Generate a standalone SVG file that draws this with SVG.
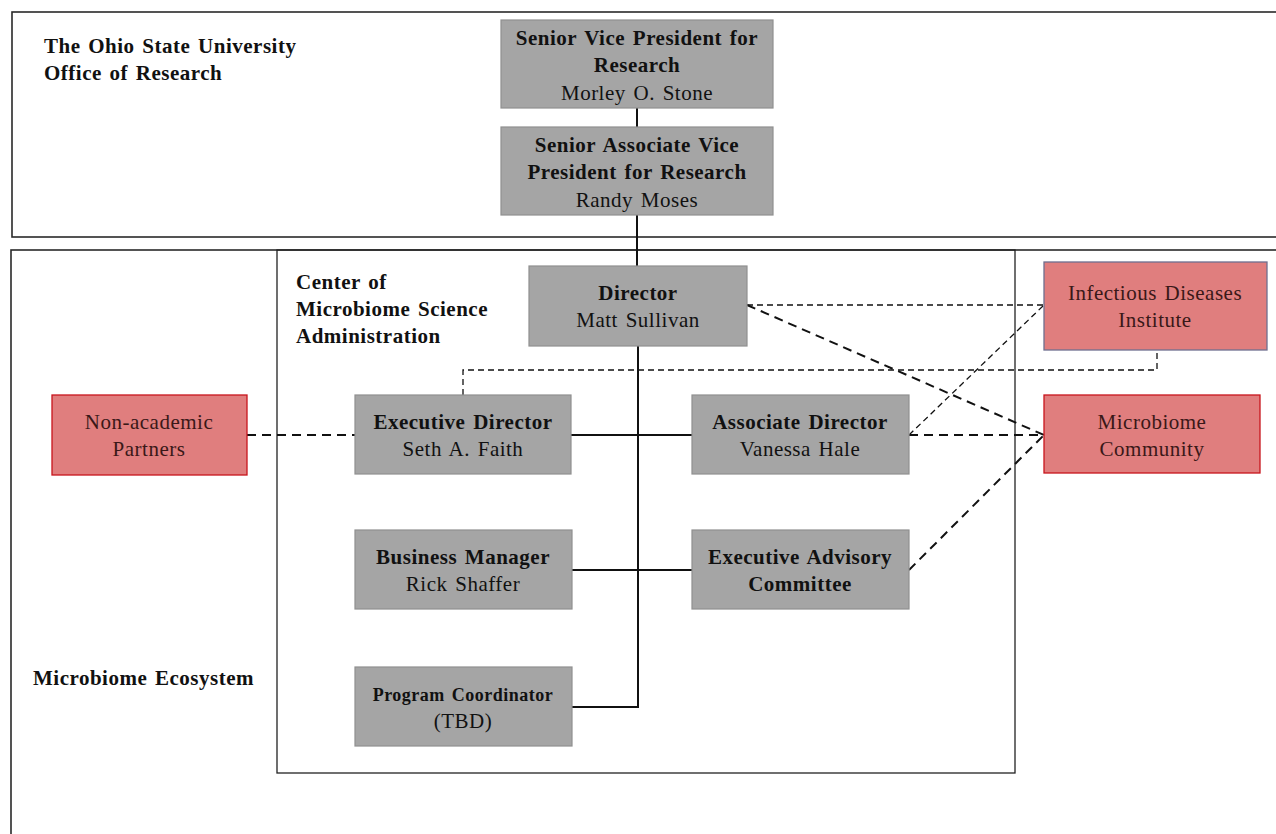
<svg xmlns="http://www.w3.org/2000/svg" width="1276" height="834" viewBox="0 0 1276 834">
<style>
.frame{fill:none;stroke:#2a2a2a;stroke-width:1.6}
.inner{fill:none;stroke:#222;stroke-width:1.3}
.g{fill:#a5a5a5;stroke:#8f8f8f;stroke-width:1.2}
.r{fill:#e07e7e;stroke:#c8141c;stroke-width:1.3}
.rb{fill:#e07e7e;stroke:#6f6f8f;stroke-width:1.3}
text{font-family:"Liberation Serif","Times New Roman",serif;font-size:21px;letter-spacing:0.5px;word-spacing:2px;fill:#111}
.b{font-weight:bold}
.c{text-anchor:middle}
.rt{fill:#3a1818}
.solid{fill:none;stroke:#111;stroke-width:2}
.dk{fill:none;stroke:#111;stroke-width:2;stroke-dasharray:9,6}
.dt{fill:none;stroke:#111;stroke-width:1.3;stroke-dasharray:6,4}
</style>
<rect class="frame" x="12" y="12" width="1280" height="225"/>
<rect class="frame" x="11" y="250" width="1280" height="600"/>
<rect class="inner" x="277" y="250" width="738" height="523"/>
<text class="b" x="44" y="53">The Ohio State University</text>
<text class="b" x="44" y="80">Office of Research</text>
<text class="b" x="296" y="289">Center of</text>
<text class="b" x="296" y="316">Microbiome Science</text>
<text class="b" x="296" y="343">Administration</text>
<text class="b" x="33" y="685">Microbiome Ecosystem</text>
<g id="connectors">
<path class="solid" d="M637 108V127M637 215V266M638 346V707H572"/>
<path class="solid" d="M571 435H692M572 570H692"/>
<path class="dk" d="M247 435H355"/>
<path class="dt" d="M463 395V370H1157V349"/>
<path class="dt" d="M747 305H1044"/>
<path class="dk" d="M747 305L1044 435"/>
<path class="dt" d="M909 435L1044 305"/>
<path class="dk" d="M909 435H1044"/>
<path class="dk" d="M909 570L1044 435"/>
</g>
<g id="svp"><rect class="g" x="501" y="20" width="272" height="88"/>
<text class="b c" x="637" y="45">Senior Vice President for</text>
<text class="b c" x="637" y="72">Research</text>
<text class="c" x="637" y="100">Morley O. Stone</text></g>
<g id="savp"><rect class="g" x="501" y="127" width="272" height="88"/>
<text class="b c" x="637" y="152">Senior Associate Vice</text>
<text class="b c" x="637" y="179">President for Research</text>
<text class="c" x="637" y="207">Randy Moses</text></g>
<g id="director"><rect class="g" x="529" y="266" width="218" height="80"/>
<text class="b c" x="638" y="300">Director</text>
<text class="c" x="638" y="327">Matt Sullivan</text></g>
<g id="execdir"><rect class="g" x="355" y="395" width="216" height="79"/>
<text class="b c" x="463" y="429">Executive Director</text>
<text class="c" x="463" y="456">Seth A. Faith</text></g>
<g id="assocdir"><rect class="g" x="692" y="395" width="217" height="79"/>
<text class="b c" x="800" y="429">Associate Director</text>
<text class="c" x="800" y="456">Vanessa Hale</text></g>
<g id="busmgr"><rect class="g" x="355" y="530" width="217" height="79"/>
<text class="b c" x="463" y="564">Business Manager</text>
<text class="c" x="463" y="591">Rick Shaffer</text></g>
<g id="eac"><rect class="g" x="692" y="530" width="217" height="79"/>
<text class="b c" x="800" y="564">Executive Advisory</text>
<text class="b c" x="800" y="591">Committee</text></g>
<g id="progcoord"><rect class="g" x="355" y="667" width="217" height="79"/>
<text class="b c" x="463" y="701" style="font-size:18px">Program Coordinator</text>
<text class="c" x="463" y="728">(TBD)</text></g>
<g id="idi"><rect class="rb" x="1044" y="262" width="223" height="88"/>
<text class="c rt" x="1155" y="300">Infectious Diseases</text>
<text class="c rt" x="1155" y="327">Institute</text></g>
<g id="community"><rect class="r" x="1044" y="395" width="216" height="78"/>
<text class="c rt" x="1152" y="429">Microbiome</text>
<text class="c rt" x="1152" y="456">Community</text></g>
<g id="nonacademic"><rect class="r" x="52" y="395" width="195" height="80"/>
<text class="c rt" x="149" y="429">Non-academic</text>
<text class="c rt" x="149" y="456">Partners</text></g>
</svg>
